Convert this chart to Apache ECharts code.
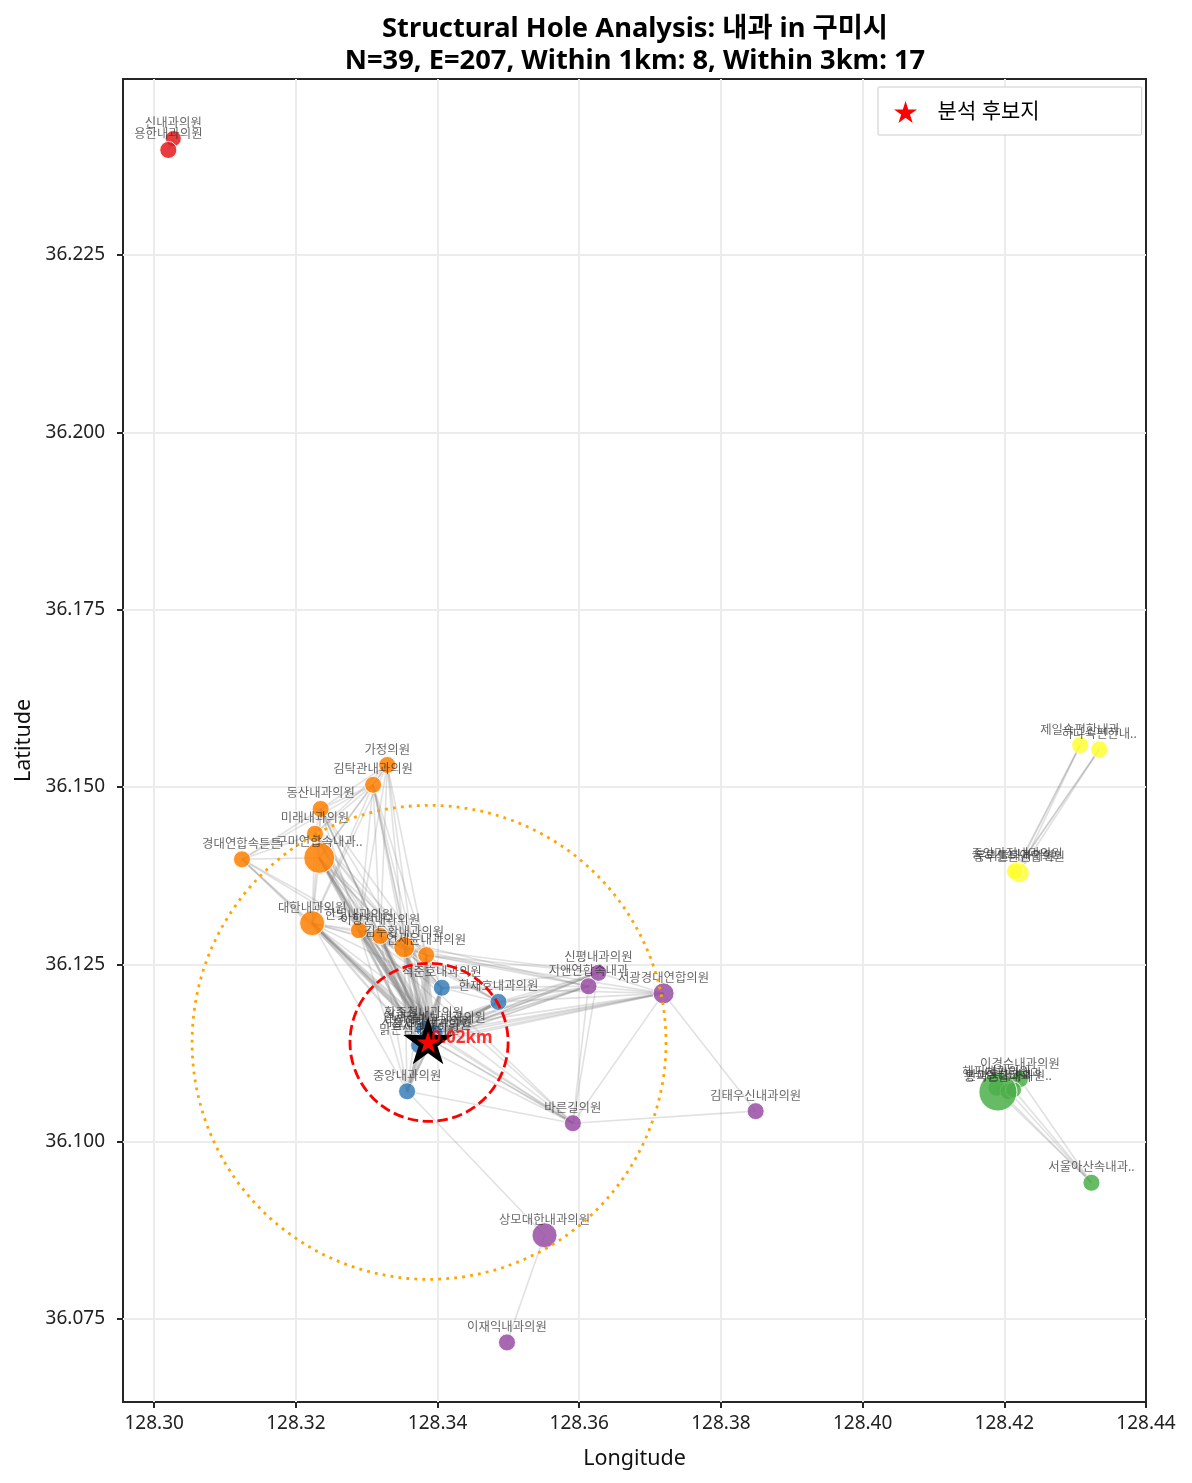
<!DOCTYPE html>
<html>
<head>
<meta charset="utf-8">
<style>html,body{margin:0;padding:0;background:#fff}#chart{width:1192px;height:1483px}</style>
<script src="https://cdn.jsdelivr.net/npm/echarts@6/dist/echarts.min.js"></script>
</head>
<body>
<div id="chart"></div>
<script>
// Node rows per community: id, clinic name, longitude, latitude, marker radius
const redNodes = [
  ['r0','신내과의원',128.3027,36.2414,8],
  ['r1','용한내과의원',128.3020,36.2398,8.5]
];
const orangeNodes = [
  ['o0','가정의원',128.3329,36.1531,8.5],
  ['o1','김탁관내과의원',128.3309,36.1503,8.5],
  ['o2','동산내과의원',128.3235,36.1469,8.5],
  ['o3','미래내과의원',128.3227,36.1434,8.5],
  ['o4','경대연합속튼튼',128.3124,36.1398,8.5],
  ['o5','구미연합속내과..',128.3233,36.1400,15.5],
  ['o6','대한내과의원',128.3223,36.1308,12.5],
  ['o7','한빛내과의원',128.3289,36.1298,8.5],
  ['o8','이향원내과의원',128.3319,36.1290,8.5],
  ['o9','김두환내과의원',128.3353,36.1274,10.5],
  ['o10','연세윤내과의원',128.3384,36.1263,8.5]
];
const blueNodes = [
  ['b0','석준호내과의원',128.3406,36.1217,8.5],
  ['b1','한재호내과의원',128.3486,36.1197,8.5],
  ['b2','중앙내과의원',128.3357,36.1071,8.5],
  ['c0','황종철내과의원',128.3381,36.1159,8.5],
  ['c1','연세참비뇨내과의원',128.3396,36.1153,8.5],
  ['c2','서울현대내과의원',128.3385,36.1147,8.5],
  ['c3','맑은샘내과의원',128.3374,36.1136,8.5],
  ['c4','참사랑내과의원',128.3391,36.1143,8.5]
];
const purpleNodes = [
  ['p0','신평내과의원',128.3627,36.1238,8.5],
  ['p1','지앤연합속내과',128.3613,36.1219,8.5],
  ['p2','서광경대연합의원',128.3719,36.1209,10.5],
  ['p3','바른길의원',128.3591,36.1026,8.5],
  ['p4','김태우신내과의원',128.3849,36.1043,8.5],
  ['p5','상모대한내과의원',128.3551,36.0868,12.5],
  ['p6','이재익내과의원',128.3498,36.0717,8.5]
];
const yellowNodes = [
  ['y0','제일속편한내과',128.4307,36.1559,8.5],
  ['y1','하나속편한내..',128.4334,36.1553,8.5],
  ['y4','중앙가정내과의원',128.4218,36.1384,8],
  ['y3','동부튼튼연합의원',128.4221,36.1379,10],
  ['y2','우리들내과의원',128.4215,36.1381,8.5]
];
const greenNodes = [
  ['g0','이경수내과의원',128.4222,36.1088,8.5],
  ['g1','서울아산속내과..',128.4323,36.0942,8.5],
  ['g3','해피내과의원',128.4189,36.1076,8.5],
  ['g4','한마음내과의원..',128.4206,36.1071,8.5],
  ['g5','참편한내과',128.4213,36.1073,8],
  ['g2','봉곡연합내과',128.4191,36.1070,19]
];

// Links between clinics, as "from to" ids. Strong ties get a heavier stroke.
const edgesStrong = [
  'o5 c0','o5 c1','o5 c2','o5 c3','o5 c4',
  'o6 c0','o6 c1','o6 c2','o6 c3','o6 c4',
  'o7 c0','o7 c1','o7 c2','o7 c3','o7 c4',
  'o8 c0','o8 c1','o8 c2','o8 c3','o8 c4',
  'o9 c0','o9 c1','o9 c2','o9 c3','o9 c4',
  'o10 c0','o10 c1','o10 c2','o10 c3','o10 c4',
  'b0 c0','b0 c1','b0 c2','b0 c3','b0 c4',
  'b1 c0','b1 c1','b1 c2','b1 c3','b1 c4',
  'b2 c0','b2 c1','b2 c2','b2 c3','b2 c4',
  'c0 c1','c0 c2','c0 c3','c0 c4','c1 c2','c1 c3','c1 c4','c2 c3','c2 c4','c3 c4',
  'g2 g3','g2 g4','g2 g5','g3 g4','g3 g5','g4 g5',
  'y2 y3','y2 y4','y3 y4','r0 r1'
];
const edgesLight = [
  'o0 o1','o0 o2','o0 o3','o0 o5','o0 o6','o0 o7','o0 o8','o0 o9','o0 o10',
  'o1 o2','o1 o3','o1 o4','o1 o5','o1 o6','o1 o7','o1 o8','o1 o9','o1 o10',
  'o2 o3','o2 o4','o2 o5','o2 o6','o2 o7','o2 o8','o2 o9','o2 o10',
  'o3 o4','o3 o5','o3 o6','o3 o7','o3 o8','o3 o9','o3 o10',
  'o4 o5','o4 o6','o4 o7','o4 o8',
  'o5 o6','o5 o7','o5 o8','o5 o9','o5 o10',
  'o6 o7','o6 o8','o6 o9','o6 o10',
  'o7 o8','o7 o9','o7 o10','o8 o9','o8 o10','o9 o10',
  'o0 c0','o1 c0','o1 c1','o1 c2','o2 c0','o2 c2','o3 c0','o3 c1','o3 c2','o4 c0','o4 c2',
  'o3 b0','o5 b0','o6 b0','o7 b0','o8 b0','o9 b0','o10 b0',
  'o6 b2','o7 b2','o8 b2','o9 b2','o10 b2',
  'o7 b1','o8 b1','o9 b1','o10 b1',
  'o10 p0','o10 p1','o10 p2','o9 p0','o9 p1','o8 p1','o6 p3','o7 p3','o8 p3',
  'b0 b1','b0 b2',
  'p0 c0','p0 c1','p0 c2','p0 c3','p0 c4',
  'p1 c0','p1 c1','p1 c2','p1 c3','p1 c4',
  'p2 c0','p2 c1','p2 c2','p2 c3','p2 c4',
  'p3 c0','p3 c1','p3 c2','p3 c3','p3 c4',
  'p0 b0','p0 b1','p1 b0','p1 b1','p2 b0','p2 b1','p3 b2',
  'p0 p1','p0 p2','p1 p2','p3 p0','p3 p1','p3 p2','p3 p4','p4 p2','p5 p6','p5 b2',
  'y0 y2','y0 y3','y0 y4','y1 y2','y1 y3','y1 y4',
  'g0 g1','g1 g2','g1 g3','g1 g4','g1 g5','g0 g2','g0 g3','g0 g4','g0 g5'
];

// Candidate site and its 1 km / 3 km catchment rings (radii in degrees on the plot)
const candidateSite = [128.3388, 36.1140];
const candidateName = '분석 후보지';
const nearestLabel = '0.02km';
const ringInner = 0.01116;
const ringOuter = 0.03345;

const xTicks = [128.30,128.32,128.34,128.36,128.38,128.40,128.42,128.44];
const yTicks = [36.075,36.100,36.125,36.150,36.175,36.200,36.225];

const FONT = '"Noto Sans","Noto Sans CJK KR",sans-serif';
const STAR = 'path://M0,-100 L22.45,-30.9 L95.1,-30.9 L36.3,11.8 L58.8,80.9 L0,38.2 L-58.8,80.9 L-36.3,11.8 L-95.1,-30.9 L-22.45,-30.9 Z';

const allNodes = [].concat(redNodes, orangeNodes, blueNodes, purpleNodes, yellowNodes, greenNodes);
const nodeAt = {};
allNodes.forEach(n => { nodeAt[n[0]] = [n[2], n[3]]; });
const toLines = list => list.map(s => {
  const [a, b] = s.split(' ');
  return { coords: [nodeAt[a], nodeAt[b]] };
});

const edgeSeries = (list, width, opacity) => ({
  type: 'lines', coordinateSystem: 'cartesian2d', polyline: false, silent: true, z: 2,
  lineStyle: { color: '#808080', width: width, opacity: opacity, curveness: 0 },
  data: toLines(list)
});

const nodeSeries = (rows, color) => ({
  type: 'scatter', silent: true, z: 3,
  itemStyle: { color: color, opacity: 0.85, borderColor: '#fff', borderWidth: 1 },
  label: {
    show: true, position: 'inside', color: 'rgba(45,45,45,0.85)',
    fontSize: 12.4, fontFamily: FONT, formatter: p => p.name
  },
  labelLayout: { hideOverlap: false, dy: -15 },
  data: rows.map(r => ({ name: r[1], value: [r[2], r[3]], symbolSize: r[4] * 2 }))
});

const ringSeries = (radius, color, width, dash) => ({
  type: 'custom', coordinateSystem: 'cartesian2d', silent: true, z: 5, clip: true,
  data: [[candidateSite[0], candidateSite[1], radius]],
  renderItem: (params, api) => {
    const c = api.coord([api.value(0), api.value(1)]);
    const r = api.size([api.value(2), 0])[0];
    return {
      type: 'circle', shape: { cx: c[0], cy: c[1], r: r },
      style: { fill: 'none', stroke: color, lineWidth: width, lineDash: dash }
    };
  }
});

const chart = echarts.init(document.getElementById('chart'), null, { renderer: 'canvas' });
chart.setOption({
  animation: false,
  backgroundColor: '#fff',
  textStyle: { fontFamily: FONT },
  title: {
    text: 'Structural Hole Analysis: 내과 in 구미시\nN=39, E=207, Within 1km: 8, Within 3km: 17',
    left: 630, top: 8, textAlign: 'center',
    textStyle: { fontFamily: FONT, fontWeight: 'bold', fontSize: 27.3, lineHeight: 32, color: '#000' }
  },
  legend: {
    left: 878, top: 87, orient: 'vertical',
    padding: [14, 102, 12, 16],
    itemWidth: 54, itemHeight: 22,
    borderColor: '#ccc', borderWidth: 1, borderRadius: 1,
    backgroundColor: '#fff', z: 20,
    textStyle: { fontFamily: FONT, fontSize: 21, color: '#000' },
    data: [{ name: candidateName, icon: STAR, itemStyle: { color: '#f00', borderWidth: 0 } }]
  },
  grid: {
    left: 123, top: 79, width: 1023, height: 1323,
    show: true, borderColor: '#262626', borderWidth: 2, backgroundColor: '#fff'
  },
  xAxis: {
    type: 'value', min: 128.2956, max: 128.44,
    name: 'Longitude', nameLocation: 'middle', nameGap: 46,
    nameTextStyle: { fontFamily: FONT, fontSize: 21.5, color: '#111' },
    axisLine: { show: false },
    axisTick: { show: true, length: 6, customValues: xTicks, lineStyle: { color: '#262626', width: 2 } },
    axisLabel: { customValues: xTicks, fontFamily: FONT, fontSize: 19, color: '#222', margin: 12,
      formatter: v => v.toFixed(2) },
    splitLine: { show: true, showMaxLine: false, lineStyle: { color: '#ececec', width: 2 } }
  },
  yAxis: {
    type: 'value', min: 36.0633, max: 36.2498,
    name: 'Latitude', nameLocation: 'middle', nameGap: 82, nameRotate: 90,
    nameTextStyle: { fontFamily: FONT, fontSize: 21.5, color: '#111' },
    axisLine: { show: false },
    axisTick: { show: true, length: 6, customValues: yTicks, lineStyle: { color: '#262626', width: 2 } },
    axisLabel: { customValues: yTicks, fontFamily: FONT, fontSize: 19, color: '#222', margin: 18,
      formatter: v => v.toFixed(3) },
    splitLine: { show: true, lineStyle: { color: '#ececec', width: 2 } }
  },
  series: [
    edgeSeries(edgesLight, 1.6, 0.24),
    edgeSeries(edgesStrong, 2.4, 0.3),
    nodeSeries(redNodes, '#e41a1c'),
    nodeSeries(orangeNodes, '#ff7f00'),
    nodeSeries(blueNodes, '#377eb8'),
    nodeSeries(purpleNodes, '#984ea3'),
    nodeSeries(yellowNodes, '#ffff33'),
    nodeSeries(greenNodes, '#4daf4a'),
    ringSeries(ringInner, '#ff0000', 2.8, [10.5, 4.5]),
    ringSeries(ringOuter, '#ffa500', 2.8, [2.8, 5.2]),
    {
      name: candidateName, type: 'scatter', silent: true, z: 6,
      symbol: STAR, symbolSize: 36, symbolKeepAspect: true, symbolOffset: [-1, -1],
      itemStyle: { color: '#f00', borderColor: '#000', borderWidth: 4.4, opacity: 1 },
      data: [candidateSite]
    },
    {
      type: 'scatter', silent: true, z: 7, symbolSize: 1,
      itemStyle: { color: 'transparent' },
      label: {
        show: true, position: 'inside', color: '#f00',
        fontFamily: FONT, fontWeight: 'bold', fontSize: 17, formatter: () => nearestLabel
      },
      labelLayout: { hideOverlap: false, dx: 33, dy: -4 },
      data: [candidateSite]
    }
  ]
});
</script>
</body>
</html>
